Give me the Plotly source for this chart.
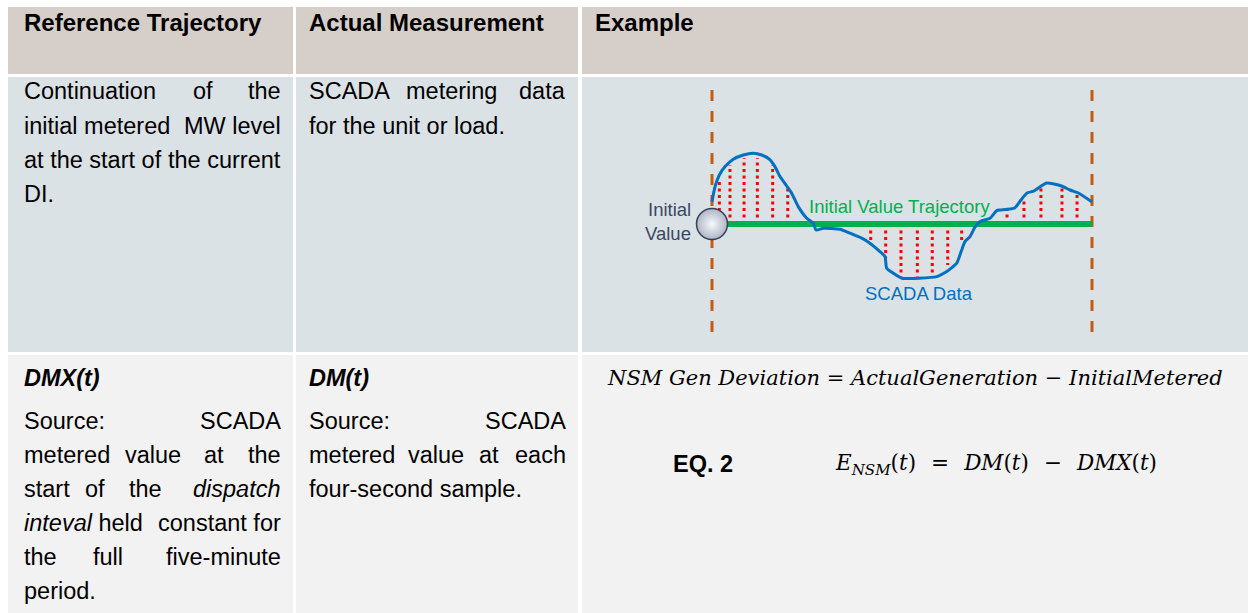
import plotly.graph_objects as go

# ---------------- data ----------------
# SCADA samples: time within the dispatch interval (s) and metered MW
scada_t = [0, 2.4, 5.8, 10.3, 16.8, 24.7, 32.6, 39.2, 45.2, 49.7,
           53.7, 59.0, 62.9, 68.1, 74.8, 80.0, 82.1, 87.9, 101.1, 108.9,
           118.2, 124.7, 132.6, 136.6, 137.9, 143.1, 149.8, 177.4, 185.3, 193.2,
           197.1, 199.7, 203.7, 207.6, 211.6, 219.5, 224.8, 227.4, 238.9, 243.9,
           248.7, 254.2, 264.1, 275.9, 282.6, 289.3, 300]
scada_mw = [111.2, 118.7, 124.5, 128.7, 132.4, 134.5, 135.4, 134.5, 132.4, 128.7,
            123.7, 119.0, 115.4, 108.7, 102.9, 100.4, 97.0, 97.9, 97.4, 95.4,
            92.9, 90.4, 86.2, 83.7, 77.9, 75.4, 72.9, 73.7, 76.2, 80.4,
            87.0, 91.2, 93.7, 98.4, 101.2, 102.9, 106.7, 107.0, 108.0, 112.0,
            115.5, 116.5, 120.5, 119.0, 117.0, 115.5, 111.0]

# deviation markers (red dotted lines) : sample time and metered MW
dev_t = [5.8, 14.2, 25.3, 35.8, 47.9, 59.8, 125.3, 137.1, 149.2, 162.1,
         173.9, 186.1, 197.1, 232.9, 246.3, 259.7, 276.3, 288.2]
dev_mw = [122.0, 129.5, 132.9, 132.9, 129.5, 117.9, 89.5, 82.9, 73.7, 73.7,
          73.7, 79.5, 92.0, 107.0, 111.2, 117.9, 119.0, 115.0]

initial_value = 100.0          # MW, initial metered value
di_bounds = [0, 300]           # dispatch interval start / end (s)
di_marker_span = [46, 169.5]   # vertical extent of the DI boundary markers (MW)

# ---------------- geometry helpers ----------------
W, H = 1248, 613


def xp(px):
    return px / W


def yp(py):
    return 1 - py / H


BODY = "Liberation Sans, Arial, sans-serif"
annotations = []
shapes = []


def word(x, y, s, anchor="l", size=23.5, color="#000000", family=BODY):
    annotations.append(dict(
        xref="paper", yref="paper",
        x=xp(x - 1 if anchor == "l" else (x + 1 if anchor == "r" else x)), y=yp(y),
        text=s, showarrow=False,
        xanchor={"l": "left", "r": "right", "c": "center"}[anchor],
        yanchor="middle", borderpad=0, borderwidth=0,
        font=dict(family=family, size=size, color=color)))


# ---------------- table cells ----------------
cols = [(8, 293), (296, 578), (582, 1248)]
rows = [(7, 74, "#D6CFC9"), (77, 352, "#DBE2E6"), (355, 613, "#F2F2F2")]
for (y0, y1, c) in rows:
    for (x0, x1) in cols:
        shapes.append(dict(type="rect", xref="paper", yref="paper",
                           x0=xp(x0), x1=xp(x1), y0=yp(y1), y1=yp(y0),
                           fillcolor=c, line=dict(width=0), layer="below"))

# headers
word(25, 22, "<b>Reference Trajectory</b>", size=24)
word(310, 22, "<b>Actual Measurement</b>", size=24)
word(596, 22, "<b>Example</b>", size=24)

lines = [
    # row 2, column 1
    (91, [("Continuation", 25, "l"), ("of", 194, "l"), ("the", 280, "r")]),
    (126, [("initial metered", 25, "l"), ("MW level", 280, "r")]),
    (160, [("at the start of", 25, "l"), ("the current", 280, "r")]),
    (194, [("DI.", 25, "l")]),
    # row 2, column 2
    (91, [("SCADA", 310, "l"), ("metering", 407, "l"), ("data", 565, "r")]),
    (126, [("for the unit or load.", 310, "l")]),
    # row 3, column 1
    (378, [("<b><i>DMX(t)</i></b>", 25, "l")]),
    (421, [("Source:", 25, "l"), ("SCADA", 280, "r")]),
    (455, [("metered", 25, "l"), ("value", 126, "l"), ("at", 205, "l"), ("the", 280, "r")]),
    (489, [("start", 25, "l"), ("of", 86, "l"), ("the", 130, "l"), ("<i>dispatch</i>", 280, "r")]),
    (523, [("<i>inteval</i> held", 25, "l"), ("constant for", 280, "r")]),
    (557, [("the", 25, "l"), ("full", 94, "l"), ("five-minute", 280, "r")]),
    (591, [("period.", 25, "l")]),
    # row 3, column 2
    (378, [("<b><i>DM(t)</i></b>", 310, "l")]),
    (421, [("Source:", 310, "l"), ("SCADA", 565, "r")]),
    (455, [("metered", 310, "l"), ("value", 409, "l"), ("at", 480, "l"), ("each", 565, "r")]),
    (489, [("four-second sample.", 310, "l")]),
]
for y, ws in lines:
    for s, x, a in ws:
        word(x, y, s, a)

# equations
MATH = "DejaVu Serif, Liberation Serif, serif"
word(915, 378, "<i>NSM Gen Deviation</i> = <i>ActualGeneration</i> \u2212 <i>InitialMetered</i>",
     anchor="c", size=21, family=MATH)
word(703, 464, "<b>EQ. 2</b>", anchor="c", size=23.5)
SP = "\u2002\u2009"
word(996, 464, "<i>E</i><sub><i>NSM</i></sub>(<i>t</i>)" + SP + "=" + SP +
     "<i>DM</i>(<i>t</i>)" + SP + "\u2212" + SP + "<i>DMX</i>(<i>t</i>)",
     anchor="c", size=21.5, family=MATH)

# chart labels
word(690, 209.5, "Initial", anchor="r", size=18.5, color="#3A4863")
word(690, 233.5, "Value", anchor="r", size=18.5, color="#3A4863")
word(810, 206.5, "Initial Value Trajectory", anchor="l", size=18.5, color="#00B050")
word(866, 293, "SCADA Data", anchor="l", size=18.5, color="#0070C0")

# ---------------- chart traces ----------------
fig = go.Figure()

# dispatch interval boundaries
bx, by = [], []
for b in di_bounds:
    bx += [b, b, None]
    by += [di_marker_span[0], di_marker_span[1], None]
fig.add_trace(go.Scatter(x=bx, y=by, mode="lines", hoverinfo="skip",
                         line=dict(color="#C55A11", width=3, dash="11px,10px")))

# deviation lines
rx, ry = [], []
for t, m in zip(dev_t, dev_mw):
    rx += [t, t, None]
    ry += [initial_value, m, None]
fig.add_trace(go.Scatter(x=rx, y=ry, mode="lines", hoverinfo="skip",
                         line=dict(color="#FF0000", width=3, dash="3px,3.5px")))

# initial value trajectory
fig.add_trace(go.Scatter(x=di_bounds, y=[initial_value, initial_value], mode="lines",
                         line=dict(color="#00B050", width=6)))

# SCADA data
fig.add_trace(go.Scatter(x=scada_t, y=scada_mw, mode="lines",
                         line=dict(color="#0070C0", width=3, shape="spline", smoothing=0.5)))

# initial value marker (light centre, darker rim)
fig.add_trace(go.Scatter(x=[di_bounds[0]], y=[initial_value], mode="markers",
                         marker=dict(size=31, color="#AEB5C5",
                                     gradient=dict(type="radial", color="#F7F8FB"),
                                     line=dict(color="#34405A", width=1.5))))

fig.update_layout(
    width=W, height=H, autosize=False,
    margin=dict(l=0, r=0, t=0, b=0),
    paper_bgcolor="#FFFFFF", plot_bgcolor="rgba(0,0,0,0)",
    showlegend=False,
    shapes=shapes, annotations=annotations,
    xaxis=dict(domain=[xp(600), xp(1240)], range=[-88.42, 416.84],
               visible=False, showgrid=False, zeroline=False, fixedrange=True),
    yaxis=dict(domain=[yp(345), yp(80)], range=[39.5, 172],
               visible=False, showgrid=False, zeroline=False, fixedrange=True),
)

fig.write_html("out.html", config={"displayModeBar": False, "staticPlot": True},
               post_script="document.body.style.margin='0';document.body.style.overflow='hidden';")
